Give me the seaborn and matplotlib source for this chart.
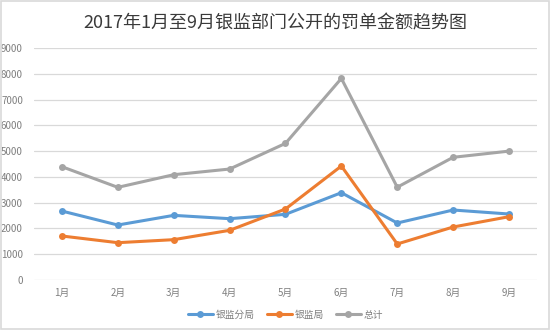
import matplotlib
matplotlib.use("Agg")
import matplotlib.pyplot as plt
import seaborn as sns
import pandas as pd
from matplotlib.patches import Rectangle

months = ["1月", "2月", "3月", "4月", "5月", "6月", "7月", "8月", "9月"]
branch = [2675, 2133, 2508, 2379, 2548, 3387, 2211, 2715, 2560]
bureau = [1707, 1448, 1565, 1927, 2754, 4422, 1397, 2056, 2456]
total = [4395, 3595, 4085, 4305, 5300, 7820, 3600, 4760, 5000]
series_names = ["银监分局", "银监局", "总计"]
colors = ["#5B9BD5", "#ED7D31", "#A5A5A5"]
yticks = [0, 1000, 2000, 3000, 4000, 5000, 6000, 7000, 8000, 9000]

sns.set_theme(style="white")
plt.rcParams["font.family"] = ["Noto Sans CJK SC", "DejaVu Sans"]

rows = []
for name, vals in zip(series_names, [branch, bureau, total]):
    for i, (m, v) in enumerate(zip(months, vals)):
        rows.append({"idx": i, "月份": m, "金额": v, "类别": name})
df = pd.DataFrame(rows)

fig = plt.figure(figsize=(5.5, 3.3), dpi=100)
ax = fig.add_axes([0.0618, 0.1515, 0.9145, 0.703])

sns.lineplot(data=df, x="idx", y="金额", hue="类别", hue_order=series_names,
             palette=colors, marker="o", markersize=5, markeredgewidth=0,
             linewidth=2.2, ax=ax, legend=True)

ax.set_xlim(-0.5, len(months) - 0.5)
ax.set_ylim(0, 9000)
ax.set_xticks(range(len(months)))
ax.set_xticklabels(months)
ax.set_yticks(yticks)
ax.set_yticklabels([str(t) for t in yticks])
ax.set_xlabel("")
ax.set_ylabel("")
ax.tick_params(axis="both", labelsize=7, colors="#7F7F7F", length=0)
ax.tick_params(axis="y", pad=8)
ax.tick_params(axis="x", pad=6)
ax.grid(axis="y", color="#D9D9D9", linewidth=0.9)
ax.set_axisbelow(True)
for s in ax.spines.values():
    s.set_visible(False)

handles, labels = ax.get_legend_handles_labels()
ax.legend(handles, labels, loc="upper center", bbox_to_anchor=(0.5, -0.09),
          ncol=3, frameon=False, fontsize=7, handlelength=2.6,
          columnspacing=1.2, handletextpad=0.3, labelcolor="#7F7F7F")

fig.text(0.5, 0.93, "2017年1月至9月银监部门公开的罚单金额趋势图",
         ha="center", va="center", fontsize=13, fontweight="normal",
         color="#3A3A3A")

fig.patches.append(Rectangle((0.002, 0.003), 0.996, 0.994, transform=fig.transFigure,
                             fill=False, edgecolor="#D9D9D9", linewidth=1.2))

fig.savefig("out.png", dpi=100)
